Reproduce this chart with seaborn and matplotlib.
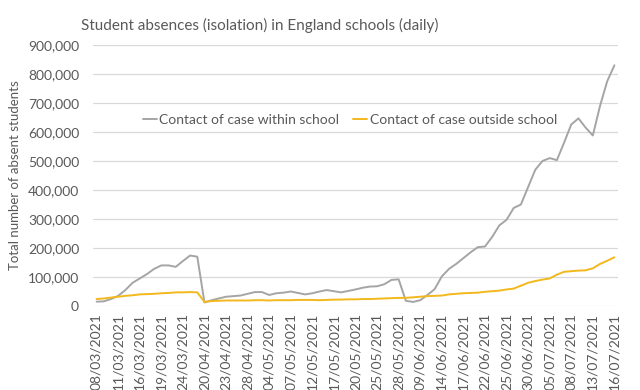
import matplotlib
matplotlib.use("Agg")
import matplotlib.pyplot as plt
import seaborn as sns
import pandas as pd
import numpy as np

dates = [
    "08/03/2021", "09/03/2021", "10/03/2021", "11/03/2021", "12/03/2021",
    "15/03/2021", "16/03/2021", "17/03/2021", "18/03/2021", "19/03/2021",
    "22/03/2021", "23/03/2021", "24/03/2021", "25/03/2021", "26/03/2021",
    "20/04/2021", "21/04/2021", "22/04/2021", "23/04/2021", "26/04/2021",
    "27/04/2021", "28/04/2021", "29/04/2021", "30/04/2021", "04/05/2021",
    "05/05/2021", "06/05/2021", "07/05/2021", "10/05/2021", "11/05/2021",
    "12/05/2021", "13/05/2021", "14/05/2021", "17/05/2021", "18/05/2021",
    "19/05/2021", "20/05/2021", "21/05/2021", "24/05/2021", "25/05/2021",
    "26/05/2021", "27/05/2021", "28/05/2021", "07/06/2021", "08/06/2021",
    "09/06/2021", "10/06/2021", "11/06/2021", "14/06/2021", "15/06/2021",
    "16/06/2021", "17/06/2021", "18/06/2021", "21/06/2021", "22/06/2021",
    "23/06/2021", "24/06/2021", "25/06/2021", "28/06/2021", "29/06/2021",
    "30/06/2021", "01/07/2021", "02/07/2021", "05/07/2021", "06/07/2021",
    "07/07/2021", "08/07/2021", "09/07/2021", "12/07/2021", "13/07/2021",
    "14/07/2021", "15/07/2021", "16/07/2021",
]

within_school = [
    15000, 16000, 24000, 35000, 55000, 80000, 95000, 110000, 128000, 140000,
    140000, 135000, 155000, 174000, 170000, 12000, 20000, 26000, 32000, 34000,
    36000, 42000, 48000, 48000, 38000, 44000, 46000, 50000, 45000, 40000,
    44000, 50000, 55000, 51000, 47000, 52000, 57000, 63000, 67000, 68000,
    75000, 90000, 92000, 18000, 14000, 20000, 38000, 58000, 102000, 128000,
    145000, 165000, 185000, 203000, 205000, 238000, 278000, 297000, 338000, 350000,
    410000, 470000, 500000, 510000, 503000, 563000, 626000, 647000, 615000, 588000,
    690000, 775000, 830000,
]

outside_school = [
    24000, 26000, 29000, 32000, 35000, 37000, 40000, 41000, 42000, 44000,
    45000, 47000, 47000, 48000, 47000, 14000, 17000, 18000, 19000, 19000,
    19000, 19000, 20000, 20000, 19000, 20000, 20000, 20000, 21000, 21000,
    21000, 20000, 21000, 22000, 22000, 23000, 23000, 24000, 24000, 25000,
    26000, 27000, 28000, 28000, 30000, 32000, 34000, 35000, 36000, 40000,
    42000, 44000, 45000, 46000, 49000, 51000, 53000, 57000, 60000, 70000,
    80000, 86000, 91000, 95000, 108000, 118000, 120000, 122000, 123000, 130000,
    145000, 156000, 168000,
]

series_names = ["Contact of case within school", "Contact of case outside school"]
colors = ["#A5A5A5", "#F2B81C"]

pos = np.arange(len(dates))
df = pd.concat([
    pd.DataFrame({"pos": pos, "value": within_school, "series": series_names[0]}),
    pd.DataFrame({"pos": pos, "value": outside_school, "series": series_names[1]}),
])

sns.set_theme(style="white")
plt.rcParams["font.family"] = ["Lato", "DejaVu Sans"]

fig = plt.figure(figsize=(6.4, 3.9), dpi=100)
ax = fig.add_axes([93 / 640, 1 - 306 / 390, (618 - 93) / 640, (306 - 45) / 390])

sns.lineplot(data=df, x="pos", y="value", hue="series", palette=colors,
             linewidth=1.4, ax=ax, legend=True)

ax.set_xlim(-0.5, len(dates) - 0.5)
ax.set_ylim(0, 900000)
ax.set_yticks(np.arange(0, 900001, 100000))
ax.yaxis.set_major_formatter(matplotlib.ticker.FuncFormatter(lambda v, p: f"{int(v):,}"))
ax.grid(axis="y", color="#D9D9D9", linewidth=0.9)
ax.set_axisbelow(True)
for s in ax.spines.values():
    s.set_visible(False)

tick_idx = list(range(0, len(dates), 3))
ax.set_xticks(tick_idx)
ax.set_xticklabels([dates[i] for i in tick_idx], rotation=90, fontsize=10, color="#595959")
ax.tick_params(axis="y", labelsize=10, labelcolor="#595959", length=0, pad=10)
ax.tick_params(axis="x", length=0, pad=5)
ax.set_xlabel("")
ax.set_ylabel("Total number of absent students", fontsize=9.5, color="#595959", labelpad=5)

handles, labels = ax.get_legend_handles_labels()
ax.legend(handles, labels, loc="center", bbox_to_anchor=(350 / 640, 1 - 120 / 390),
          bbox_transform=fig.transFigure, ncol=2, frameon=False, fontsize=10,
          handlelength=1.0, handletextpad=0.2, columnspacing=1.0, labelcolor="#595959")

fig.text(260 / 640, 1 - 25 / 390, "Student absences (isolation) in England schools (daily)",
         ha="center", va="center", fontsize=11, color="#595959")

fig.savefig("out.png", dpi=100, facecolor="white")
